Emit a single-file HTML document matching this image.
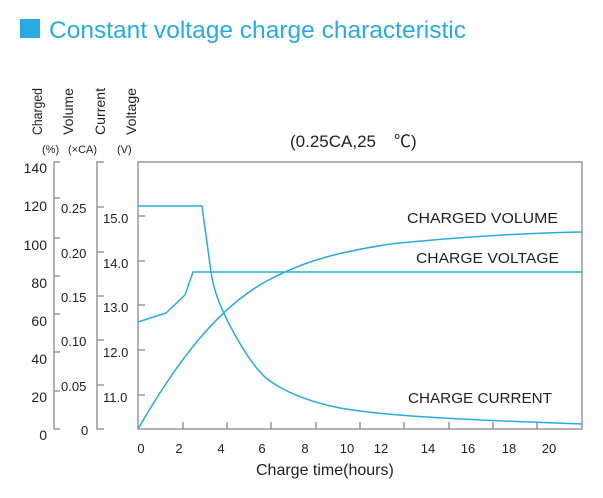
<!DOCTYPE html>
<html><head><meta charset="utf-8"><style>
html,body{margin:0;padding:0;background:#fff;}
svg{display:block;font-family:"Liberation Sans","Noto Sans CJK JP",sans-serif;}
</style></head><body>
<svg width="603" height="498" viewBox="0 0 603 498" xmlns="http://www.w3.org/2000/svg">
<rect x="20" y="19" width="20" height="19" fill="#29abe2"/>
<text x="49" y="38" font-size="24" fill="#29abe2" textLength="417" lengthAdjust="spacingAndGlyphs">Constant voltage charge characteristic</text>

<g font-size="14" fill="#222">
<text transform="translate(42,135) rotate(-90)" textLength="47" lengthAdjust="spacingAndGlyphs">Charged</text>
<text transform="translate(73,135) rotate(-90)" textLength="47" lengthAdjust="spacingAndGlyphs">Volume</text>
<text transform="translate(105,135) rotate(-90)" textLength="47" lengthAdjust="spacingAndGlyphs">Current</text>
<text transform="translate(136,135) rotate(-90)" textLength="47" lengthAdjust="spacingAndGlyphs">Voltage</text>
</g>
<g font-size="11" fill="#222">
<text x="42" y="153">(%)</text>
<text x="68" y="153">(×CA)</text>
<text x="117" y="153">(V)</text>
</g>

<g stroke="#888" stroke-width="1.3" fill="none">
<path d="M60,162H54V429H60 M54,198H60 M54,238H60 M54,276H60 M54,314H60 M54,352H60 M54,391H60"/>
<path d="M104,162H97V429H104 M97,207H104 M97,252H104 M97,296H104 M97,340H104 M97,385H104"/>
<rect x="138" y="162" width="444" height="267"/>
<path d="M138,216h7 M138,261h7 M138,305h7 M138,350h7 M138,395h7"/>
<path d="M183,429v-7 M227,429v-7 M271,429v-7 M316,429v-7 M360,429v-7 M404,429v-7 M449,429v-7 M493,429v-7 M537,429v-7"/>
</g>

<g font-size="14" fill="#222" text-anchor="end">
<text x="47" y="173">140</text>
<text x="47" y="211">120</text>
<text x="47" y="250">100</text>
<text x="47" y="288">80</text>
<text x="47" y="326">60</text>
<text x="47" y="364">40</text>
<text x="47" y="402">20</text>
<text x="47" y="440">0</text>
</g>
<g font-size="13" fill="#222">
<text x="61" y="213">0.25</text>
<text x="61" y="258">0.20</text>
<text x="61" y="302">0.15</text>
<text x="61" y="346">0.10</text>
<text x="61" y="391">0.05</text>
<text x="81" y="435">0</text>
<text x="103" y="223">15.0</text>
<text x="103" y="268">14.0</text>
<text x="103" y="312">13.0</text>
<text x="103" y="357">12.0</text>
<text x="103" y="402">11.0</text>
</g>
<g font-size="13" fill="#222" text-anchor="middle">
<text x="141" y="453">0</text><text x="179" y="453">2</text><text x="221" y="453">4</text>
<text x="262" y="453">6</text><text x="305" y="453">8</text><text x="347" y="453">10</text>
<text x="381" y="453">12</text><text x="428" y="453">14</text><text x="468" y="453">16</text>
<text x="509" y="453">18</text><text x="549" y="453">20</text>
</g>
<text x="256" y="475" font-size="16" fill="#222">Charge time(hours)</text>
<text x="290" y="147" font-size="17" fill="#222">(0.25CA,25 </text>
<text x="394" y="147" font-size="17" fill="#222">℃)</text>
<g font-size="15" fill="#222">
<text x="407" y="223" textLength="151" lengthAdjust="spacingAndGlyphs">CHARGED VOLUME</text>
<text x="416" y="263" textLength="143" lengthAdjust="spacingAndGlyphs">CHARGE VOLTAGE</text>
<text x="408" y="403" textLength="144" lengthAdjust="spacingAndGlyphs">CHARGE CURRENT</text>
</g>

<g stroke="#29abe2" stroke-width="1.5" fill="none" stroke-linejoin="round">
<path d="M138,206 L202,206 L211,272 C214,292 220,305 227,320 C240,345 252,365 266,378 C285,393 310,402 340,408 C380,415 440,419 582,424"/>
<polyline points="138,322 166,313 185,295 193,272 582,272"/>
<path d="M138,429 C175,365 215,310 265,282 C305,260 340,252 390,244 C450,238 520,233 582,232"/>
</g>
</svg>
</body></html>
